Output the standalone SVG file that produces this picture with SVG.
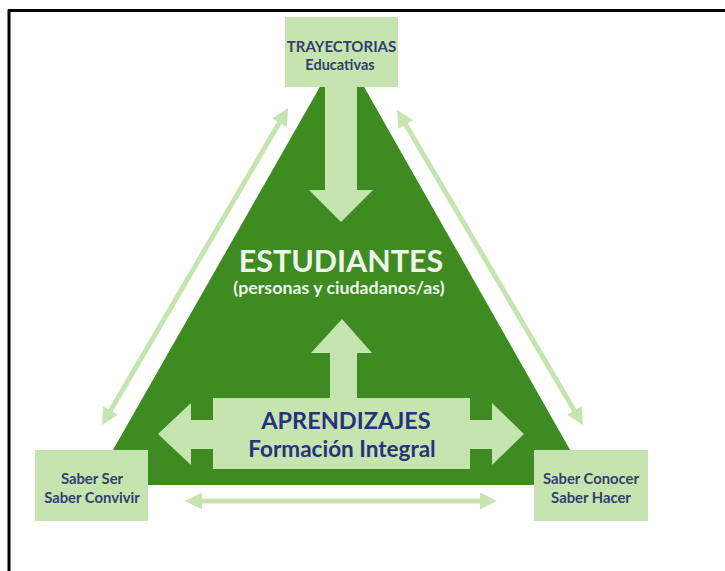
<svg xmlns="http://www.w3.org/2000/svg" width="725" height="571" viewBox="0 0 725 571">
<defs>
<style>
.lite{fill:#c6e4b0}
.box{fill:#c6e4b0}
.conn{stroke:#c6e4b0;stroke-width:5;fill:none}
.bt{font-family:Lato,"Open Sans","Liberation Sans",sans-serif;font-weight:bold;fill:#343f6e;text-anchor:middle}
.wt{font-family:Lato,"Open Sans","Liberation Sans",sans-serif;font-weight:bold;fill:#eef6ea;text-anchor:middle}
.nt{font-family:Lato,"Open Sans","Liberation Sans",sans-serif;font-weight:bold;fill:#26327a;text-anchor:middle}
</style>
<marker id="ah" markerUnits="userSpaceOnUse" markerWidth="17" markerHeight="17" viewBox="0 0 17 17" refX="7" refY="8.5" orient="auto-start-reverse">
<path d="M0,0 L17,8.5 L0,17 z" fill="#c6e4b0"/>
</marker>
</defs>
<rect x="0" y="0" width="725" height="571" fill="#ffffff"/>
<path d="M8 10.5H725M9 9.5V571" stroke="#000" stroke-width="3" fill="none"/>

<g id="triangle">
<polygon points="342,48 93,485 590,485" fill="#3e8b22"/>
</g>

<g id="connectors">
<line class="conn" x1="283" y1="116.6" x2="107" y2="416.4" marker-start="url(#ah)" marker-end="url(#ah)"/>
<line class="conn" x1="402.1" y1="118.6" x2="577.9" y2="416.4" marker-start="url(#ah)" marker-end="url(#ah)"/>
<line class="conn" x1="195" y1="501" x2="487" y2="501" marker-start="url(#ah)" marker-end="url(#ah)"/>
<polygon class="lite" points="325,87 357,87 357,190 373,190 341,222 309,190 325,190"/>
<polygon class="lite" points="342,319 372,353 357,353 357,398 330,398 330,353 311,353"/>
</g>

<g id="aprendizajes">
<polygon class="lite" points="158,434 191,403 191,420 213,420 213,398 470,398 470,420 492,420 492,403 524,434 492,465 492,449 470,449 470,469 213,469 213,449 191,449 191,465"/>
<text class="nt" x="346" y="429" font-size="23.5">APRENDIZAJES</text>
<text class="nt" x="342" y="457" font-size="22.5">Formación Integral</text>
</g>

<g id="estudiantes">
<text class="wt" x="341" y="272" font-size="30.5">ESTUDIANTES</text>
<text class="wt" x="339" y="294" font-size="17.8">(personas y ciudadanos/as)</text>
</g>

<g id="trayectorias">
<rect class="box" x="285" y="17" width="113" height="70"/>
<text class="bt" x="341.5" y="52" font-size="15">TRAYECTORIAS</text>
<text class="bt" x="340" y="69.5" font-size="14.5">Educativas</text>
</g>

<g id="saber-ser">
<rect class="box" x="35" y="450" width="113" height="71"/>
<text class="bt" x="92" y="484" font-size="14.8">Saber Ser</text>
<text class="bt" x="92" y="503" font-size="14.8">Saber Convivir</text>
</g>

<g id="saber-conocer">
<rect class="box" x="534" y="450" width="114" height="71"/>
<text class="bt" x="591" y="484" font-size="14.8">Saber Conocer</text>
<text class="bt" x="591" y="503" font-size="14.8">Saber Hacer</text>
</g>
</svg>
